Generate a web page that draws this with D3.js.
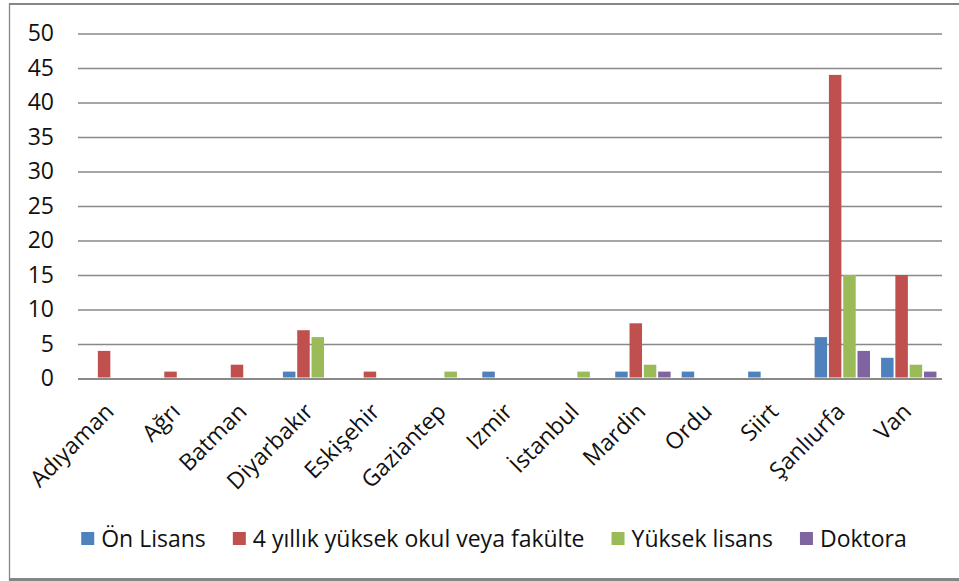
<!DOCTYPE html>
<html>
<head>
<meta charset="utf-8">
<script src="https://cdn.jsdelivr.net/npm/d3@7"></script>
<style>
    body { margin: 0; background: #fff; }
    text { font-family: "Open Sans", sans-serif; fill: #111; }
</style>
</head>
<body>
<div class="bar-chart"></div>
<script>
// cities on the x axis
var cities = ["Adıyaman", "Ağrı", "Batman", "Diyarbakır", "Eskişehir", "Gaziantep",
    "Izmir", "İstanbul", "Mardin", "Ordu", "Siirt", "Şanlıurfa", "Van"];

// one array per education level, same order as cities
var onLisans     = [0, 0, 0, 1, 0, 0, 1, 0, 1, 1, 1, 6, 3];
var dortYillik   = [4, 1, 2, 7, 1, 0, 0, 0, 8, 0, 0, 44, 15];
var yuksekLisans = [0, 0, 0, 6, 0, 1, 0, 1, 2, 0, 0, 15, 2];
var doktora      = [0, 0, 0, 0, 0, 0, 0, 0, 1, 0, 0, 4, 1];

var seriesNames = ["Ön Lisans", "4 yıllık yüksek okul veya fakülte", "Yüksek lisans", "Doktora"];
var seriesColors = ["#4F81BD", "#C0504D", "#9BBB59", "#8064A2"];

var yTicks = [0, 5, 10, 15, 20, 25, 30, 35, 40, 45, 50];

(function() {

    var W = 959, H = 581;
    var FONT_SIZE = "23px";
    var LEGEND_GAP = 27;
    var plot = { left: 78, right: 942, top: 33.5, bottom: 378.5 };

    var svg = d3.select(".bar-chart").append("svg")
        .attr("width", W)
        .attr("height", H);

    // chart frame (top, left, bottom edges are the only visible ones)
    svg.append("line")
        .attr("x1", 9).attr("x2", W).attr("y1", 4).attr("y2", 4)
        .attr("stroke", "#868686").attr("stroke-width", 2);
    svg.append("line")
        .attr("x1", 9.5).attr("x2", 9.5).attr("y1", 3).attr("y2", H)
        .attr("stroke", "#868686").attr("stroke-width", 1.3);
    svg.append("line")
        .attr("x1", 9).attr("x2", W).attr("y1", 579.5).attr("y2", 579.5)
        .attr("stroke", "#868686").attr("stroke-width", 3);

    var table = cities.map(function(c, i) {
        return { city: c, values: [onLisans[i], dortYillik[i], yuksekLisans[i], doktora[i]] };
    });

    var x0 = d3.scaleBand()
        .domain(cities)
        .range([plot.left, plot.right]);

    var x1 = d3.scaleBand()
        .domain(d3.range(seriesNames.length))
        .range([0, x0.bandwidth()])
        .paddingInner(0.126)
        .paddingOuter(0.387);

    var y = d3.scaleLinear()
        .domain([0, 50])
        .range([plot.bottom, plot.top]);

    // gridlines + y labels
    var yAxis = svg.append("g")
        .attr("class", "y axis")
        .attr("transform", "translate(" + plot.left + ",0)")
        .call(d3.axisLeft(y)
            .tickValues(yTicks)
            .tickSize(-(plot.right - plot.left))
            .tickPadding(24));

    yAxis.select(".domain").remove();
    yAxis.selectAll(".tick line")
        .attr("stroke", "#898989")
        .attr("stroke-width", function(d) { return d === 0 ? 2.2 : 1.4; });
    yAxis.selectAll(".tick text")
        .style("font-size", FONT_SIZE)
        .style("font-family", "'Open Sans', sans-serif")
        .attr("fill", "#111");

    // bars
    var groups = svg.append("g")
        .attr("class", "bars")
        .selectAll("g")
        .data(table)
        .enter().append("g")
        .attr("transform", function(d) {
            return "translate(" + x0(d.city) + ",0)";
        });

    groups.selectAll("rect")
        .data(function(d) { return d.values.map(function(v, k) { return { k: k, v: v }; }); })
        .enter().append("rect")
        .filter(function(d) { return d.v > 0; })
        .attr("x", function(d) { return x1(d.k); })
        .attr("width", x1.bandwidth())
        .attr("y", function(d) { return y(d.v); })
        .attr("height", function(d) { return y(0) - y(d.v) - 1; })
        .attr("fill", function(d) { return seriesColors[d.k]; });

    // rotated city labels
    svg.append("g")
        .attr("class", "x labels")
        .selectAll("text")
        .data(cities)
        .enter().append("text")
        .attr("transform", function(d) {
            var cx = x0(d) + x0.bandwidth() / 2;
            return "translate(" + (cx + 4) + ",413) rotate(-45)";
        })
        .style("text-anchor", "end")
        .style("font-size", FONT_SIZE)
        .text(function(d) { return d; });

    // legend, laid out from the measured text widths
    var legend = svg.append("g").attr("class", "legend");
    var items = legend.selectAll("g")
        .data(seriesNames)
        .enter().append("g");

    items.append("rect")
        .attr("y", 532)
        .attr("width", 13)
        .attr("height", 13)
        .attr("fill", function(d, i) { return seriesColors[i]; });

    items.append("text")
        .attr("x", 20)
        .attr("y", 547)
        .style("font-size", FONT_SIZE)
        .text(function(d) { return d; });

    var pos = 0, offsets = [];
    items.each(function() {
        var w = d3.select(this).select("text").node().getComputedTextLength();
        offsets.push(pos);
        pos += 20 + w + LEGEND_GAP;
    });
    var total = pos - LEGEND_GAP;
    var start = 494 - total / 2;
    items.attr("transform", function(d, i) {
        return "translate(" + (start + offsets[i]) + ",0)";
    });

})();
</script>
</body>
</html>
